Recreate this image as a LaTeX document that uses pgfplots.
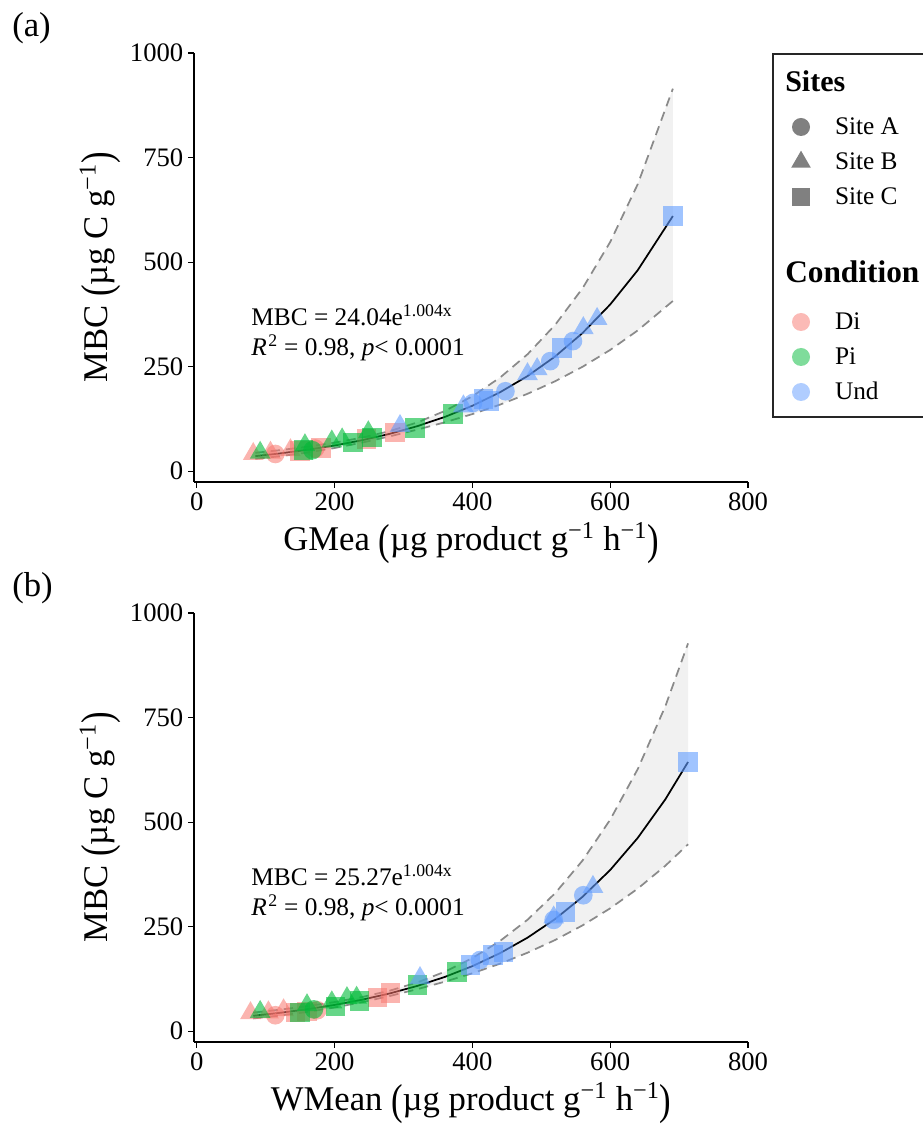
\documentclass[border=0pt]{standalone}
\usepackage{fontspec}
\setmainfont{Liberation Serif}
\usepackage{graphicx}
\usepackage{pgfplots}
\pgfplotsset{compat=1.18}
\definecolor{diC}{HTML}{F8766D}
\definecolor{piC}{HTML}{00BA38}
\definecolor{unC}{HTML}{619CFF}
\definecolor{bandC}{HTML}{F1F1F1}
\definecolor{dashC}{HTML}{8A8A8A}
\definecolor{siteC}{HTML}{808080}
\newcommand{\bp}[1]{\raisebox{-0.1em}{\scalebox{1}[1.25]{#1}}}
\pgfplotsset{
  panel/.style={
    scale only axis, width=415.5pt, height=321.75pt,
    xmin=-4, xmax=800, ymin=-26, ymax=1000,
    axis x line*=bottom, axis y line*=left,
    axis line style={-, line width=0.8pt, black},
    xtick={0,200,400,600,800}, ytick={0,250,500,750,1000},
    tick align=outside, major tick length=4.5pt,
    tick style={line width=0.8pt, black},
    /pgf/number format/assume math mode=true, /pgf/number format/1000 sep={},
    ticklabel style={font=\fontsize{20}{24}\selectfont},
    label style={font=\fontsize{26}{31}\selectfont},
    ylabel style={at={(axis description cs:-0.1697,0.5)}, anchor=center},
    xlabel style={at={(axis description cs:0.5,-0.160)}, anchor=base},
    clip=false,
    legend cell align=left,
    legend image code/.code={\path[draw=none, fill=none] (-15.75pt,-13.125pt) rectangle (15.75pt,13.125pt); \path[##1] plot coordinates {(0pt,0pt)};},
  },
  tri/.style={only marks, forget plot, mark=triangle*, mark size=9pt},
  cir/.style={only marks, forget plot, mark=*, mark size=7pt},
  sqr/.style={only marks, forget plot, mark=square*, mark size=7.3pt},
  di/.style={mark options={draw opacity=0, fill=diC, fill opacity=0.55}},
  pi/.style={mark options={draw opacity=0, fill=piC, fill opacity=0.6}},
  un/.style={mark options={draw opacity=0, fill=unC, fill opacity=0.6}},
  band/.style={fill=bandC, draw=none, forget plot},
  dash/.style={dashC, line width=1.3pt, dash pattern=on 7pt off 4.5pt, forget plot},
  fit/.style={black, line width=1.3pt, forget plot},
  leg/.style={draw=none, fill=none, inner sep=0pt, outer sep=0pt, row sep=0pt, column sep=9.75pt,
    nodes={inner sep=0pt, anchor=west}, font=\fontsize{19}{23}\selectfont, anchor=north west},
}
\begin{document}
\begin{tikzpicture}
\useasboundingbox (0,0) rectangle (691.5pt,843pt);
% ---------------- panel (a)
\begin{axis}[panel, at={(145.5pt,481.5pt)}, anchor=south west,
  xlabel={GMea \bp{(}µg product g\textsuperscript{−1} h\textsuperscript{−1}\bp{)}},
  ylabel={MBC \bp{(}µg C g\textsuperscript{−1}\bp{)}},
  legend style={leg, at={(1.0578,0.8683)}}]
\addlegendimage{mark=*, mark size=6.75pt, mark options={draw opacity=0, fill=siteC}}
\addlegendentry{Site A}
\addlegendimage{mark=triangle*, mark size=8.5pt, mark options={draw opacity=0, fill=siteC}}
\addlegendentry{Site B}
\addlegendimage{mark=square*, mark size=7pt, mark options={draw opacity=0, fill=siteC}}
\addlegendentry{Site C}
\addplot[band] coordinates {(85,43.79) (120,49.98) (160,58.23) (200,68.06) (240,80.08) (280,95.59) (320,116.43) (360,143.89) (400,179.05) (440,223.47) (480,279.36) (520,349.54) (560,437.52) (600,547.91) (640,686.29) (691,914.71)
 (691,406.92) (640,336.50) (600,289.85) (560,249.63) (520,214.88) (480,184.89) (440,158.95) (400,136.43) (360,116.74) (320,99.22) (280,83.11) (240,68.24) (200,55.22) (160,44.37) (120,35.55) (85,29.25)};
\addplot[tri,di] coordinates {(82,41) (107,44) (136,50)};
\addplot[cir,di] coordinates {(114,41) (172,54)};
\addplot[sqr,di] coordinates {(150,48) (180,55) (246,77) (288,92)};
\addplot[tri,pi] coordinates {(92,44) (157,62) (196,71) (211,76) (249,93)};
\addplot[cir,pi] coordinates {(168,50)};
\addplot[sqr,pi] coordinates {(155,50) (227,68) (254,80) (317,103) (372,137)};
\addplot[tri,un] coordinates {(295,108) (387,155) (480,232) (494,244) (561,342) (581,364)};
\addplot[cir,un] coordinates {(401,163) (448,191) (513,263) (546,311)};
\addplot[sqr,un] coordinates {(416,172) (424,168) (530,294) (691,610)};
\addplot[dash] coordinates {(85,43.79) (120,49.98) (160,58.23) (200,68.06) (240,80.08) (280,95.59) (320,116.43) (360,143.89) (400,179.05) (440,223.47) (480,279.36) (520,349.54) (560,437.52) (600,547.91) (640,686.29) (691,914.71)};
\addplot[dash] coordinates {(85,29.25) (120,35.55) (160,44.37) (200,55.22) (240,68.24) (280,83.11) (320,99.22) (360,116.74) (400,136.43) (440,158.95) (480,184.89) (520,214.88) (560,249.63) (600,289.85) (640,336.50) (691,406.92)};
\addplot[fit] coordinates {(85,35.79) (120,42.15) (160,50.83) (200,61.30) (240,73.92) (280,89.13) (320,107.48) (360,129.61) (400,156.29) (440,188.47) (480,227.27) (520,274.06) (560,330.48) (600,398.51) (640,480.56) (691,610.09)};
\node[anchor=base west, inner sep=0pt, font=\fontsize{19}{23}\selectfont] at (axis cs:79,349) {MBC = 24.04e\textsuperscript{1.004x}};
\node[anchor=base west, inner sep=0pt, font=\fontsize{19}{23}\selectfont] at (axis cs:79,277.5) {\textit{R}\kern1pt\textsuperscript{2} = 0.98, \textit{p}< 0.0001};
\end{axis}
% ---------------- panel (b)
\begin{axis}[panel, at={(145.5pt,61.5pt)}, anchor=south west,
  xlabel={WMean \bp{(}µg product g\textsuperscript{−1} h\textsuperscript{−1}\bp{)}},
  ylabel={MBC \bp{(}µg C g\textsuperscript{−1}\bp{)}},
  legend style={leg, at={(1.0578,1.7191)}}]
\addlegendimage{mark=*, mark size=6.75pt, mark options={draw opacity=0, fill=diC, fill opacity=0.5}}
\addlegendentry{Di}
\addlegendimage{mark=*, mark size=6.75pt, mark options={draw opacity=0, fill=piC, fill opacity=0.5}}
\addlegendentry{Pi}
\addlegendimage{mark=*, mark size=6.75pt, mark options={draw opacity=0, fill=unC, fill opacity=0.5}}
\addlegendentry{Und}
\addplot[band] coordinates {(82,44.32) (120,51.15) (160,59.54) (200,69.50) (240,81.55) (280,96.70) (320,116.43) (360,142.04) (400,174.62) (440,215.45) (480,266.31) (520,329.63) (560,408.18) (600,505.68) (640,626.69) (680,776.80) (713,927.29)
 (713,446.88) (680,395.42) (640,340.83) (600,293.68) (560,253.03) (520,217.88) (480,187.52) (440,161.20) (400,138.32) (360,118.25) (320,100.31) (280,83.99) (240,69.25) (200,56.50) (160,45.87) (120,37.13) (82,30.34)};
\addplot[tri,di] coordinates {(78,43) (104,45) (126,50)};
\addplot[cir,di] coordinates {(114,38) (175,50)};
\addplot[sqr,di] coordinates {(143,45) (160,47) (262,81) (281,91)};
\addplot[tri,pi] coordinates {(92,46) (160,62) (196,69) (218,79) (232,80)};
\addplot[cir,pi] coordinates {(170,52)};
\addplot[sqr,pi] coordinates {(150,45) (201,59) (236,72) (320,110) (378,141)};
\addplot[tri,un] coordinates {(324,127) (518,272) (575,345)};
\addplot[cir,un] coordinates {(411,170) (518,266) (561,325)};
\addplot[sqr,un] coordinates {(397,158) (430,182) (445,189) (535,285) (713,644)};
\addplot[dash] coordinates {(82,44.32) (120,51.15) (160,59.54) (200,69.50) (240,81.55) (280,96.70) (320,116.43) (360,142.04) (400,174.62) (440,215.45) (480,266.31) (520,329.63) (560,408.18) (600,505.68) (640,626.69) (680,776.80) (713,927.29)};
\addplot[dash] coordinates {(82,30.34) (120,37.13) (160,45.87) (200,56.50) (240,69.25) (280,83.99) (320,100.31) (360,118.25) (400,138.32) (440,161.20) (480,187.52) (520,217.88) (560,253.03) (600,293.68) (640,340.83) (680,395.42) (713,446.88)};
\addplot[fit] coordinates {(82,36.67) (120,43.58) (160,52.26) (200,62.66) (240,75.15) (280,90.12) (320,108.07) (360,129.60) (400,155.41) (440,186.36) (480,223.47) (520,267.99) (560,321.38) (600,385.37) (640,462.16) (680,554.22) (713,643.73)};
\node[anchor=base west, inner sep=0pt, font=\fontsize{19}{23}\selectfont] at (axis cs:79,349) {MBC = 25.27e\textsuperscript{1.004x}};
\node[anchor=base west, inner sep=0pt, font=\fontsize{19}{23}\selectfont] at (axis cs:79,277.5) {\textit{R}\kern1pt\textsuperscript{2} = 0.98, \textit{p}< 0.0001};
\end{axis}
% ---------------- legend frame and titles, panel tags
\draw[line width=0.8pt, black!85] (579.75pt,802.5pt) rectangle (720pt,530.25pt);
\node[anchor=base west, inner sep=0pt, font=\fontsize{22.5}{27}\selectfont\bfseries] at (588.75pt,774pt) {Sites};
\node[anchor=base west, inner sep=0pt, font=\fontsize{23.5}{28}\selectfont\bfseries] at (588.75pt,630.75pt) {Condition};
\node[anchor=base west, inner sep=0pt, font=\fontsize{26}{31}\selectfont] at (9pt,815.25pt) {(a)};
\node[anchor=base west, inner sep=0pt, font=\fontsize{26}{31}\selectfont] at (9pt,395.25pt) {(b)};
\end{tikzpicture}
\end{document}
